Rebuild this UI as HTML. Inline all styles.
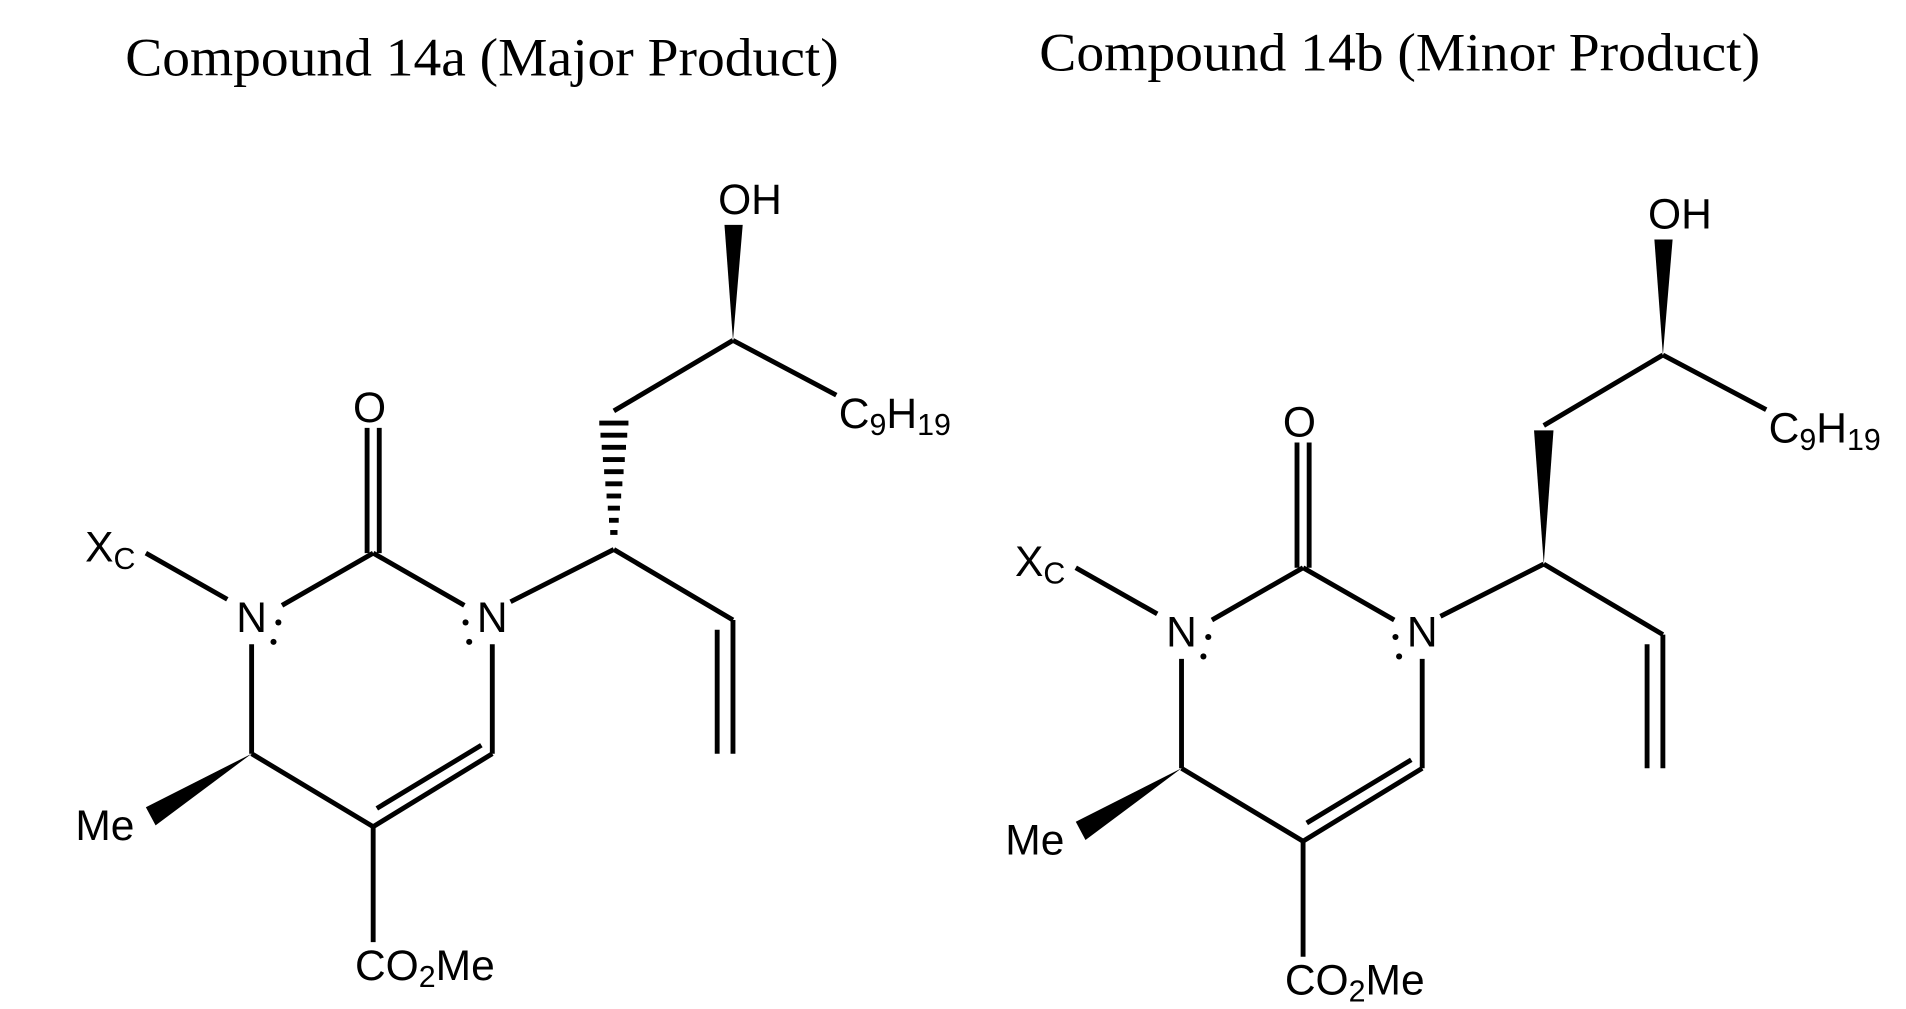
<!DOCTYPE html>
<html><head><meta charset="utf-8"><style>
html,body{margin:0;padding:0;background:#fff;width:1906px;height:1009px;overflow:hidden}
svg{display:block}
.t{font-family:"Liberation Serif",serif;font-size:44px;fill:#000}
.a{font-family:"Liberation Sans",sans-serif;font-size:35px;fill:#000}
.s{font-size:25px}
line{stroke:#000;stroke-width:4}
</style></head><body>
<svg width="1906" height="1009" viewBox="0 0 1568 830" preserveAspectRatio="none">
<text class="t" x="103" y="62" textLength="587" lengthAdjust="spacingAndGlyphs">Compound 14a (Major Product)</text>
<text class="t" x="855" y="58" textLength="593" lengthAdjust="spacingAndGlyphs">Compound 14b (Minor Product)</text>
<defs>
<g id="core">
<polygon points="603,280 596,185 611,185" fill="#000"/>
<line x1="603" y1="280" x2="688" y2="325"/>
<line x1="603" y1="280" x2="505" y2="338"/>
<line x1="307" y1="455" x2="232" y2="498"/>
<line x1="307" y1="455" x2="382" y2="498"/>
<line x1="302" y1="352" x2="302" y2="455"/>
<line x1="312" y1="352" x2="312" y2="455"/>
<line x1="207" y1="530" x2="207" y2="620"/>
<line x1="207" y1="620" x2="307" y2="680"/>
<line x1="307" y1="680" x2="405" y2="620"/>
<line x1="310" y1="665" x2="396" y2="613"/>
<line x1="405" y1="620" x2="405" y2="530"/>
<line x1="307" y1="680" x2="307" y2="775"/>
<line x1="187" y1="493" x2="120" y2="455"/>
<line x1="420" y1="495" x2="505" y2="452"/>
<line x1="505" y1="452" x2="603" y2="510"/>
<line x1="603" y1="510" x2="603" y2="620"/>
<line x1="590" y1="518" x2="590" y2="620"/>
<polygon points="207,620 120,664 128,679" fill="#000"/>
<text class="a" x="617" y="176" text-anchor="middle">OH</text>
<text class="a" x="304" y="347" text-anchor="middle">O</text>
<text class="a" x="690" y="352">C<tspan class="s" dy="6">9</tspan><tspan dy="-6">H</tspan><tspan class="s" dy="6">19</tspan></text>
<text class="a" x="70" y="462">X<tspan class="s" dy="6">C</tspan></text>
<text class="a" x="207" y="520" text-anchor="middle">N</text>
<text class="a" x="405" y="520" text-anchor="middle">N</text>
<circle cx="229" cy="512" r="2.5"/><circle cx="225" cy="528" r="2.5"/>
<circle cx="383" cy="512" r="2.5"/><circle cx="386" cy="528" r="2.5"/>
<text class="a" x="62" y="691">Me</text>
<text class="a" x="292" y="806">CO<tspan class="s" dy="6">2</tspan><tspan dy="-6">Me</tspan></text>
</g>
</defs>
<use href="#core"/>
<g stroke="#000" stroke-width="3">
<line x1="493" y1="348" x2="517" y2="348"/>
<line x1="494" y1="358" x2="516" y2="358"/>
<line x1="495" y1="368" x2="515" y2="368"/>
<line x1="496" y1="378" x2="514" y2="378"/>
<line x1="497" y1="388" x2="513" y2="388"/>
<line x1="498" y1="398" x2="512" y2="398"/>
<line x1="499" y1="408" x2="511" y2="408"/>
<line x1="500" y1="418" x2="510" y2="418"/>
<line x1="501" y1="428" x2="509" y2="428"/>
<line x1="502" y1="438" x2="508" y2="438"/>
</g>
<g transform="translate(765,12)">
<use href="#core"/>
<polygon points="505,452 497,342 513,342" fill="#000"/>
</g>
</svg>
</body></html>
